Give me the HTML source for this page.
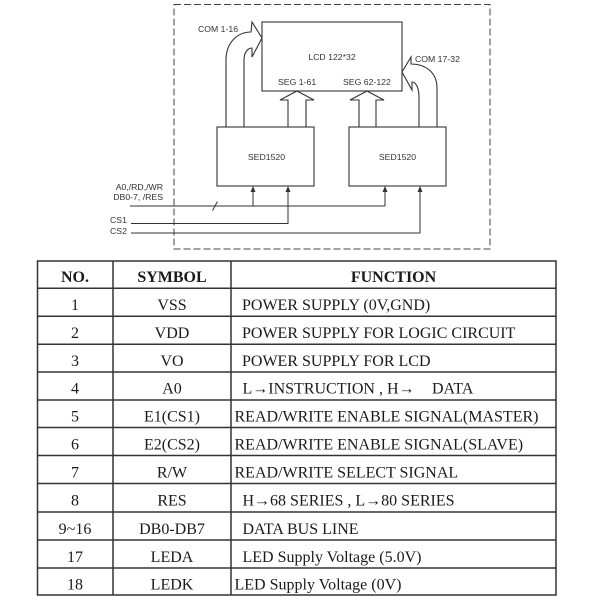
<!DOCTYPE html>
<html><head><meta charset="utf-8"><style>
html,body{margin:0;padding:0;background:#fff;}
svg{display:block;}
.d{font-family:"Liberation Sans",Arial,sans-serif;font-size:8.7px;fill:#333;}
.t{font-family:"Liberation Serif","Times New Roman",serif;font-size:16px;fill:#1a1a1a;}
.b{font-weight:bold;}
</style></head><body>
<svg width="600" height="600" viewBox="0 0 600 600" xmlns="http://www.w3.org/2000/svg">
<!-- dashed box -->
<rect x="174" y="4.5" width="316" height="244.5" fill="none" stroke="#444" stroke-width="1" stroke-dasharray="7,3"/>
<!-- LCD -->
<rect x="262" y="22" width="140" height="69" fill="#fff" stroke="#333" stroke-width="1.1"/>
<text class="d" x="332" y="60" text-anchor="middle">LCD 122*32</text>
<text class="d" x="278" y="85">SEG 1-61</text>
<text class="d" x="343" y="85">SEG 62-122</text>
<!-- SED boxes -->
<rect x="217" y="127" width="97" height="59" fill="#fff" stroke="#333" stroke-width="1.1"/>
<rect x="349" y="127" width="97" height="59" fill="#fff" stroke="#333" stroke-width="1.1"/>
<text class="d" x="266.5" y="160" text-anchor="middle">SED1520</text>
<text class="d" x="397.5" y="160" text-anchor="middle">SED1520</text>
<!-- SEG arrows -->
<path d="M288,127 L288,100 L280,100 L297,91 L314,100 L306,100 L306,127" fill="none" stroke="#333" stroke-width="1.1"/>
<path d="M359,127 L359,100 L350,100 L367,91 L384,100 L376,100 L376,127" fill="none" stroke="#333" stroke-width="1.1"/>
<!-- COM 1-16 arrow -->
<path d="M226,127 L226,60 C226,42 238,32 251,32 L252,22 L262,38 L252,57 L252,48 C248,48 244,52 244,60 L244,127" fill="none" stroke="#333" stroke-width="1.1"/>
<text class="d" x="198" y="32">COM 1-16</text>
<!-- COM 17-32 arrow -->
<path d="M437,127 L437,88 C437,72 425,64 411,64 L411,57 L402,72 L412,90 L412,82 C416,82 419,88 419,97 L419,127" fill="none" stroke="#333" stroke-width="1.1"/>
<text class="d" x="415" y="62">COM 17-32</text>
<!-- signal lines -->
<text class="d" x="163" y="190" text-anchor="end">A0,/RD,/WR</text>
<text class="d" x="163" y="200" text-anchor="end">DB0-7, /RES</text>
<text class="d" x="110" y="223">CS1</text>
<text class="d" x="110" y="234">CS2</text>
<g stroke="#333" stroke-width="1" fill="none">
<path d="M130,206 L385,206"/>
<path d="M253,206 L253,190"/>
<path d="M385,206 L385,190"/>
<path d="M131,223.5 L288,223.5 L288,190"/>
<path d="M131,233 L420,233 L420,190"/>
<path d="M212.5,210.5 L217.5,201.5"/>
</g>
<g fill="#333">
<path d="M253,186 L250.5,192 L255.5,192 Z"/>
<path d="M385,186 L382.5,192 L387.5,192 Z"/>
<path d="M288,186 L285.5,192 L290.5,192 Z"/>
<path d="M420,186 L417.5,192 L422.5,192 Z"/>
</g>
<!-- table -->
<g stroke="#333" stroke-width="1.5" fill="none">
<rect x="37.5" y="261" width="518.5" height="334"/>
<line x1="113" y1="261" x2="113" y2="595"/>
<line x1="231" y1="261" x2="231" y2="595"/>
<line x1="37.5" y1="288.3" x2="556" y2="288.3"/>
<line x1="37.5" y1="316.3" x2="556" y2="316.3"/>
<line x1="37.5" y1="344.3" x2="556" y2="344.3"/>
<line x1="37.5" y1="372" x2="556" y2="372"/>
<line x1="37.5" y1="400" x2="556" y2="400"/>
<line x1="37.5" y1="427.5" x2="556" y2="427.5"/>
<line x1="37.5" y1="455.5" x2="556" y2="455.5"/>
<line x1="37.5" y1="483.5" x2="556" y2="483.5"/>
<line x1="37.5" y1="512" x2="556" y2="512"/>
<line x1="37.5" y1="540" x2="556" y2="540"/>
<line x1="37.5" y1="568" x2="556" y2="568"/>
</g>
<g class="t">
<text class="t b" x="75" y="282" text-anchor="middle">NO.</text>
<text class="t b" x="172" y="282" text-anchor="middle">SYMBOL</text>
<text class="t b" x="393.5" y="282" text-anchor="middle">FUNCTION</text>

<text class="t" x="75" y="310" text-anchor="middle">1</text>
<text class="t" x="172" y="310" text-anchor="middle">VSS</text>
<text class="t" x="242" y="310">POWER SUPPLY (0V,GND)</text>

<text class="t" x="75" y="338" text-anchor="middle">2</text>
<text class="t" x="172" y="338" text-anchor="middle">VDD</text>
<text class="t" x="242" y="338">POWER SUPPLY FOR LOGIC CIRCUIT</text>

<text class="t" x="75" y="366" text-anchor="middle">3</text>
<text class="t" x="172" y="366" text-anchor="middle">VO</text>
<text class="t" x="242" y="366">POWER SUPPLY FOR LCD</text>

<text class="t" x="75" y="393.5" text-anchor="middle">4</text>
<text class="t" x="172" y="393.5" text-anchor="middle">A0</text>
<text class="t" x="242.5" y="393.5">L→INSTRUCTION , H→</text>
<text class="t" x="432" y="393.5">DATA</text>

<text class="t" x="75" y="421.5" text-anchor="middle">5</text>
<text class="t" x="172" y="421.5" text-anchor="middle">E1(CS1)</text>
<text class="t" x="234.5" y="421.5">READ/WRITE ENABLE SIGNAL(MASTER)</text>

<text class="t" x="75" y="449.5" text-anchor="middle">6</text>
<text class="t" x="172" y="449.5" text-anchor="middle">E2(CS2)</text>
<text class="t" x="234.5" y="449.5">READ/WRITE ENABLE SIGNAL(SLAVE)</text>

<text class="t" x="75" y="477.5" text-anchor="middle">7</text>
<text class="t" x="172" y="477.5" text-anchor="middle">R/W</text>
<text class="t" x="234.5" y="477.5">READ/WRITE SELECT SIGNAL</text>

<text class="t" x="75" y="505.5" text-anchor="middle">8</text>
<text class="t" x="172" y="505.5" text-anchor="middle">RES</text>
<text class="t" x="242.5" y="505.5">H→68 SERIES , L→80 SERIES</text>

<text class="t" x="75" y="534" text-anchor="middle">9~16</text>
<text class="t" x="172" y="534" text-anchor="middle">DB0-DB7</text>
<text class="t" x="242.5" y="534">DATA BUS LINE</text>

<text class="t" x="75" y="562" text-anchor="middle">17</text>
<text class="t" x="172" y="562" text-anchor="middle">LEDA</text>
<text class="t" x="242.5" y="562">LED Supply Voltage (5.0V)</text>

<text class="t" x="75" y="589.5" text-anchor="middle">18</text>
<text class="t" x="172" y="589.5" text-anchor="middle">LEDK</text>
<text class="t" x="234.5" y="589.5">LED Supply Voltage (0V)</text>
</g>
</svg>
</body></html>
